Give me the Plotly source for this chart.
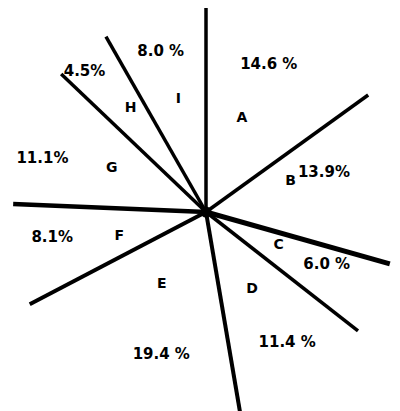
import numpy as np
import plotly.graph_objects as go

# segment letters and their shares (percent) as printed on the diagram
segments = ["A", "B", "C", "D", "E", "F", "G", "H", "I"]
shares = [14.6, 13.9, 6.0, 11.4, 19.4, 8.1, 11.1, 4.5, 8.0]
pct_labels = ["14.6 %", "13.9%", "6.0 %", "11.4 %", "19.4 %",
              "8.1%", "11.1%", "4.5%", "8.0 %"]

# drawing style: spoke length (px) at the start of each segment, spoke width,
# and where the two labels of each segment sit (angle shift, radius)
spoke_len = [205, 200, 191, 193, 203, 199, 193, 200, 202]
spoke_w = [3.5, 3.5, 5, 3.5, 4, 4, 4.5, 3.5, 3.5]
letter_shift = [-6, -10, -2, 0, 5, -3, 2, 2, 1]
letter_r = [100, 90, 80, 90, 85, 90, 104, 128, 116]
pct_shift = [-4, -8, -3, -1, -9, 3, -5, -3, -1]
pct_r = [160, 124, 132, 154, 150, 156, 172, 185, 166]

total = sum(shares)
edges = np.concatenate([[0], np.cumsum(shares)]) / total * 360
starts = edges[:-1]
mids = (edges[:-1] + edges[1:]) / 2


def to_xy(r, ang):
    # angle measured clockwise from north
    a = np.deg2rad(np.asarray(ang, dtype=float))
    r = np.asarray(r, dtype=float)
    return r * np.sin(a), r * np.cos(a)


fig = go.Figure()

# spokes separating the segments
for ang, length, w in zip(starts, spoke_len, spoke_w):
    x, y = to_xy([0, length], [ang, ang])
    fig.add_trace(go.Scatter(
        x=x, y=y, mode="lines",
        line=dict(color="black", width=w),
        hoverinfo="skip"
    ))

# hub
fig.add_trace(go.Scatter(
    x=[0], y=[0], mode="markers",
    marker=dict(color="black", size=11),
    hoverinfo="skip"
))

# segment letters
lx, ly = to_xy(letter_r, mids + np.array(letter_shift))
fig.add_trace(go.Scatter(
    x=lx, y=ly, mode="text", text=segments,
    textfont=dict(family="DejaVu Sans", size=14, color="black", weight="bold"),
    cliponaxis=False
))

# percentages
px_, py_ = to_xy(pct_r, mids + np.array(pct_shift))
fig.add_trace(go.Scatter(
    x=px_, y=py_, mode="text", text=pct_labels,
    textfont=dict(family="DejaVu Sans", size=15, color="black", weight="bold"),
    cliponaxis=False
))

fig.update_layout(
    width=400, height=411,
    margin=dict(l=0, r=0, t=0, b=0),
    showlegend=False,
    paper_bgcolor="white",
    plot_bgcolor="white",
    xaxis=dict(range=[-198, 202], visible=False),
    yaxis=dict(range=[-207, 204], visible=False),
)

fig.write_html("out.html")
